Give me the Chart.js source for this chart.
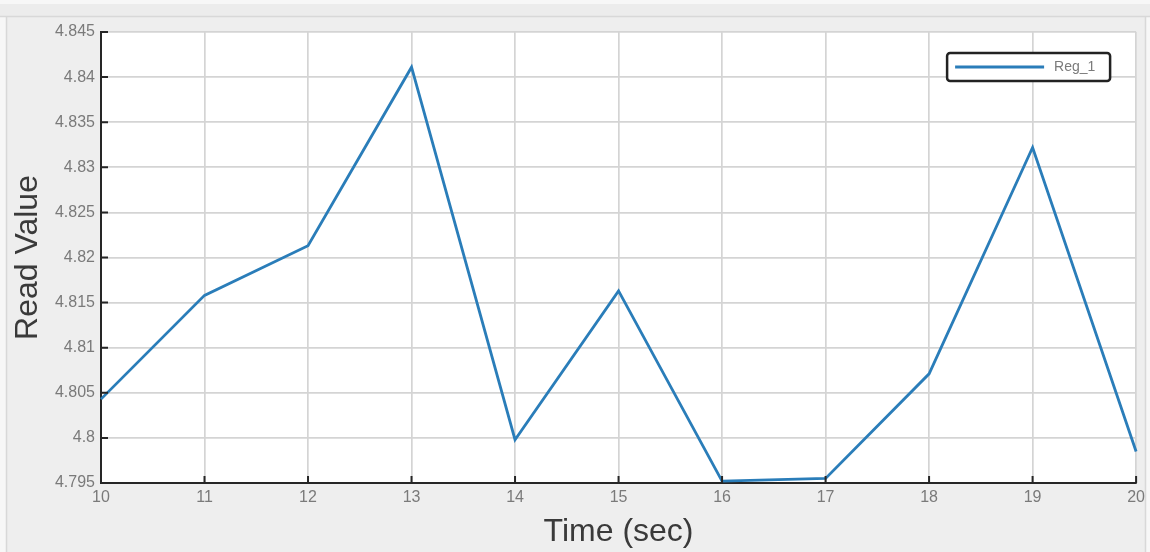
<!DOCTYPE html>
<html>
<head>
<meta charset="utf-8">
<script src="https://cdn.jsdelivr.net/npm/chart.js@4"></script>
<style>
  html, body { margin: 0; padding: 0; background: #f5f5f5; }
  #wrap { width: 1150px; height: 552px; position: relative; }
</style>
</head>
<body>
<div id="wrap"><canvas id="c"></canvas></div>
<script>
// ---- data ----
const times = [10, 11, 12, 13, 14, 15, 16, 17, 18, 19, 20];
const readValues = [4.8043, 4.8158, 4.8213, 4.8411, 4.7998, 4.8163, 4.7952, 4.7955, 4.8071, 4.8322, 4.7985];
const seriesLabel = 'Reg_1';
const xTickValues = [10, 11, 12, 13, 14, 15, 16, 17, 18, 19, 20];
const xTickLabels = ['10', '11', '12', '13', '14', '15', '16', '17', '18', '19', '20'];
const yTickValues = [4.795, 4.8, 4.805, 4.81, 4.815, 4.82, 4.825, 4.83, 4.835, 4.84, 4.845];
const yTickLabels = ['4.795', '4.8', '4.805', '4.81', '4.815', '4.82', '4.825', '4.83', '4.835', '4.84', '4.845'];
const xTitle = 'Time (sec)';
const yTitle = 'Read Value';

const lineColor = '#2a7db9';
const tickColor = '#7a7a7a';
const axisColor = '#262626';

const framePlugin = {
  id: 'frame',
  beforeDraw(chart) {
    const ctx = chart.ctx, W = chart.width, H = chart.height, a = chart.chartArea;
    ctx.save();
    ctx.fillStyle = '#f7f7f7';
    ctx.fillRect(0, 0, W, H);
    ctx.fillStyle = '#ececec';
    ctx.fillRect(0, 4, W, 12);
    ctx.fillStyle = '#eeeeee';
    ctx.fillRect(6, 17, 1140, H - 17);
    ctx.strokeStyle = '#d8d8d8';
    ctx.lineWidth = 1.5;
    ctx.beginPath();
    ctx.moveTo(0, 16.5); ctx.lineTo(W, 16.5);
    ctx.moveTo(6.5, 17); ctx.lineTo(6.5, H);
    ctx.moveTo(1145.5, 17); ctx.lineTo(1145.5, H);
    ctx.stroke();
    ctx.fillStyle = '#ffffff';
    ctx.fillRect(a.left, a.top, a.right - a.left, a.bottom - a.top);
    ctx.restore();
  }
};

const innerTicksPlugin = {
  id: 'innerTicks',
  afterDraw(chart) {
    const ctx = chart.ctx, a = chart.chartArea;
    const xs = chart.scales.x, ys = chart.scales.y;
    ctx.save();
    ctx.strokeStyle = axisColor;
    ctx.lineWidth = 2;
    ctx.beginPath();
    xTickValues.forEach(v => {
      const px = xs.getPixelForValue(v);
      ctx.moveTo(px, a.bottom); ctx.lineTo(px, a.bottom - 7);
    });
    yTickValues.forEach(v => {
      const py = ys.getPixelForValue(v);
      ctx.moveTo(a.left, py); ctx.lineTo(a.left + 7, py);
    });
    ctx.stroke();

    // legend box
    const ds = chart.data.datasets[0];
    const bx = a.right - 189, by = a.top + 21, bw = 163, bh = 28;
    ctx.beginPath();
    ctx.roundRect(bx, by, bw, bh, 3);
    ctx.fillStyle = '#ffffff';
    ctx.fill();
    ctx.lineWidth = 2.5;
    ctx.strokeStyle = '#222222';
    ctx.stroke();
    ctx.beginPath();
    ctx.moveTo(bx + 8, by + bh / 2); ctx.lineTo(bx + 97, by + bh / 2);
    ctx.strokeStyle = ds.borderColor;
    ctx.lineWidth = 3;
    ctx.stroke();
    ctx.fillStyle = tickColor;
    ctx.font = '14px "Liberation Sans", Arial, sans-serif';
    ctx.textBaseline = 'middle';
    ctx.textAlign = 'left';
    ctx.fillText(ds.label, bx + 107, by + bh / 2);
    ctx.restore();
  }
};

new Chart(document.getElementById('c'), {
  type: 'line',
  data: {
    datasets: [{
      label: seriesLabel,
      data: times.map((t, i) => ({ x: t, y: readValues[i] })),
      borderColor: lineColor,
      backgroundColor: lineColor,
      borderWidth: 2.8,
      pointRadius: 0,
      tension: 0,
      clip: false
    }]
  },
  options: {
    responsive: true,
    maintainAspectRatio: false,
    animation: false,
    layout: { padding: { left: 0, right: 13, top: 32, bottom: 0 } },
    plugins: { legend: { display: false }, tooltip: { enabled: false } },
    scales: {
      x: {
        type: 'linear',
        min: 10, max: 20,
        afterBuildTicks: s => { s.ticks = xTickValues.map(v => ({ value: v })); },
        afterFit: s => { s.height = 69; },
        ticks: {
          color: tickColor,
          font: { family: '"Liberation Sans", Arial, sans-serif', size: 16 },
          padding: 5,
          maxRotation: 0,
          autoSkip: false,
          callback: (v, i) => xTickLabels[i]
        },
        grid: { color: '#d4d4d4', lineWidth: 1.7, drawTicks: false },
        border: { color: axisColor, width: 2 },
        title: {
          display: true, text: xTitle, color: '#3a3a3a',
          font: { family: '"Liberation Sans", Arial, sans-serif', size: 32 },
          padding: { top: 0, bottom: 1 }
        }
      },
      y: {
        min: 4.795, max: 4.845,
        afterBuildTicks: s => { s.ticks = yTickValues.map(v => ({ value: v })); },
        afterFit: s => { s.width = 101; },
        ticks: {
          color: tickColor,
          font: { family: '"Liberation Sans", Arial, sans-serif', size: 16 },
          padding: 6,
          autoSkip: false,
          callback: (v, i) => yTickLabels[i]
        },
        grid: { color: '#d4d4d4', lineWidth: 1.7, drawTicks: false },
        border: { color: axisColor, width: 2 },
        title: {
          display: true, text: yTitle, color: '#3a3a3a',
          font: { family: '"Liberation Sans", Arial, sans-serif', size: 32 },
          padding: { top: 9, bottom: 0 }
        }
      }
    }
  },
  plugins: [framePlugin, innerTicksPlugin]
});
</script>
</body>
</html>
